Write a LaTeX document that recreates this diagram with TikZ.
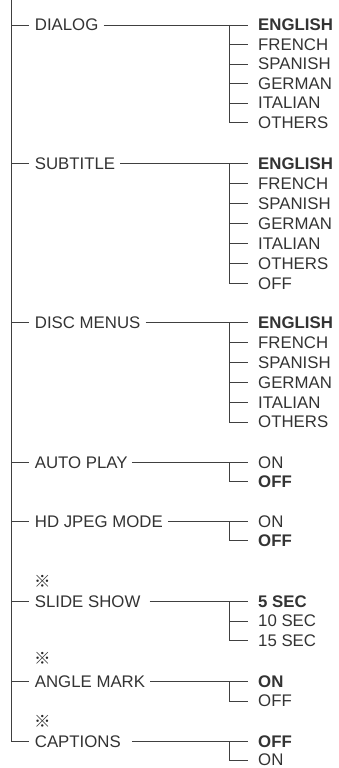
\documentclass[tikz,border=0pt]{standalone}
\usepackage{fontspec}
\setmainfont{Liberation Sans}
\newfontfamily\cjk{Noto Sans CJK JP}
\usetikzlibrary{positioning,calc}

\begin{document}
\begin{tikzpicture}[
x=1pt,y=-1pt,
lbl/.style={
  anchor=west,
  inner sep=0pt,
  text=black!80,
  font=\fontsize{16.8}{18}\selectfont},
opt/.style={
  lbl},
note/.style={
  anchor=west,
  inner sep=0pt,
  text=black!85,
  font=\cjk\bfseries\fontsize{16.5}{18}\selectfont},
ln/.style={
  draw=black!75,
  line width=0.9pt}
]
\useasboundingbox (0,0) rectangle (339,768);
\coordinate (top) at (11.7,0);
\coordinate (vx) at (229.3,0);
% menu items
\node[lbl] (dialog) at (34.7,25) {DIALOG};
\node[lbl] (subtitle) at (34.7,163.3) {SUBTITLE};
\node[lbl] (disc) at (34.7,322.7) {DISC MENUS};
\node[lbl] (auto) at (34.7,462.3) {AUTO PLAY};
\node[lbl] (hd) at (34.7,521.7) {HD JPEG MODE};
\node[lbl] (slide) at (34.7,601.7) {SLIDE SHOW};
\node[lbl] (angle) at (34.7,681.7) {ANGLE MARK};
\node[lbl] (captions) at (34.7,741.7) {CAPTIONS};
\node[note] (nslide) at (34,581.7) {※};
\node[note] (nangle) at (34,658.3) {※};
\node[note] (ncaptions) at (34,721.7) {※};
% settings
\foreach \t [count=\k] in {\textbf{ENGLISH},FRENCH,SPANISH,GERMAN,ITALIAN,OTHERS}
  \node[opt] (dialog\k) at (258,{25+(\k-1)*19.5}) {\t};
\foreach \t [count=\k] in {\textbf{ENGLISH},FRENCH,SPANISH,GERMAN,ITALIAN,OTHERS,OFF}
  \node[opt] (subtitle\k) at (258,{163.3+(\k-1)*20}) {\t};
\foreach \t [count=\k] in {\textbf{ENGLISH},FRENCH,SPANISH,GERMAN,ITALIAN,OTHERS}
  \node[opt] (disc\k) at (258,{322.7+(\k-1)*19.9}) {\t};
\foreach \t [count=\k] in {ON,\textbf{OFF}}
  \node[opt] (auto\k) at (258,{462.3+(\k-1)*19.4}) {\t};
\foreach \t [count=\k] in {ON,\textbf{OFF}}
  \node[opt] (hd\k) at (258,{521.7+(\k-1)*18.6}) {\t};
\foreach \t [count=\k] in {\textbf{5 SEC},10 SEC,15 SEC}
  \node[opt] (slide\k) at (258,{601.7+(\k-1)*19.3}) {\t};
\foreach \t [count=\k] in {\textbf{ON},OFF}
  \node[opt] (angle\k) at (258,{681.7+(\k-1)*19.3}) {\t};
\foreach \t [count=\k] in {\textbf{OFF},ON}
  \node[opt] (captions\k) at (258,{741.7+(\k-1)*18.3}) {\t};
% main line
\draw[ln] (top) |- ([xshift=-5.7pt]captions.west);
\foreach \n in {dialog,subtitle,disc,auto,hd,slide,angle}
  \draw[ln] (top |- \n.west) -- ([xshift=-5.7pt]\n.west);
% branches
\foreach \n/\m/\g in {dialog/6/5pt,subtitle/7/5pt,disc/6/5pt,auto/2/4pt,hd/2/5pt,slide/3/9pt,angle/2/5pt,captions/2/11pt}{
  \draw[ln] ([xshift=\g]\n.east) -- ([xshift=-9.7pt]\n1.west);
  \draw[ln] (vx |- \n1.west) |- ([xshift=-9.7pt]\n\m.west);
  \foreach \k in {2,...,\m}
    \draw[ln] (vx |- \n\k.west) -- ([xshift=-9.7pt]\n\k.west);
}
\end{tikzpicture}
\end{document}
